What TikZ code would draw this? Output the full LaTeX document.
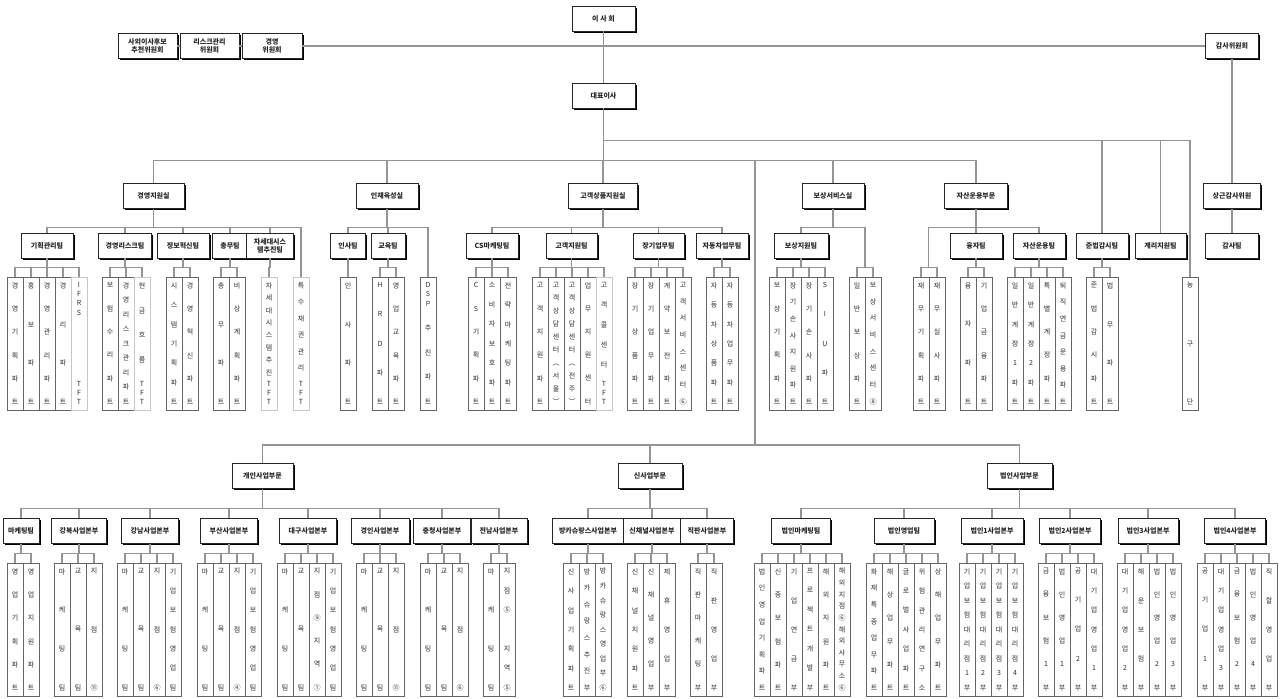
\documentclass[tikz,border=0pt]{standalone}
\usepackage{fontspec}
\setmainfont{Noto Sans CJK KR}
\usetikzlibrary{shadows,calc}

\tikzstyle{every node}+=[inner sep=0.5pt]
\tikzstyle{link}=[draw=black!42, line width=1.1pt]
\tikzstyle{box}=[draw=black!85, fill=white, line width=0.6pt, minimum height=25, align=center,
  font=\bfseries\fontsize{7}{7.8}\selectfont, text=black!85,
  drop shadow={shadow xshift=1.6pt, shadow yshift=-1.6pt, fill=black, opacity=1}]
\tikzstyle{leaf}=[draw=black!60, fill=white, line width=0.6pt, minimum width=16, minimum height=133,
  inner sep=0pt, font=\fontsize{7}{8}\selectfont, text=black!82]
\tikzstyle{tft}=[leaf, draw=black!22]

\newcommand\vsp[2]{#1\ifx#2\relax\else\par\vfill\expandafter\vsp\expandafter#2\fi}
\newcommand\vt[1]{\parbox[c][122pt][s]{15pt}{\centering\vsp#1\relax}}
\newcommand\TFT{\shortstack{T\\[1pt]F\\[1pt]T}}
\newcommand\IFRS{\shortstack{I\\[1pt]F\\[1pt]R\\[1pt]S}}
\newcommand\DSP{\shortstack{D\\[1pt]S\\[1pt]P}}
\newcommand\blankc{\mbox{}}

\makeatletter
\newcommand\cols[5]{%
  \foreach \lbl [count=\i] in {#5} {
    \expandafter\in@\expandafter\TFT\expandafter{\lbl}%
    \ifin@\tikzset{cur/.style=tft}\else\tikzset{cur/.style=leaf}\fi
    \node[cur] (#2\i) at ({#3+16*\i-8},{#4+66.5}) {\expandafter\vt\expandafter{\lbl}};
    \draw[link] (#1) -- ++(0,9.5) -| (#2\i.north);
  }}
\makeatother

\begin{document}
\begin{tikzpicture}[x=1pt,y=-1pt]
\fill[white] (0,0) rectangle (1281,698);
\useasboundingbox (0,0) rectangle (1281,698);

\node[box,minimum width=63] (board) at (603.5,18.5) {이 사 회};
\node[box,minimum width=63] (ceo) at (603.5,95.5) {대표이사};
\node[box,minimum width=59] (cm1) at (147.5,46) {사외이사후보\\추천위원회};
\node[box,minimum width=59] (cm2) at (209.5,46) {리스크관리\\위원회};
\node[box,minimum width=60] (cm3) at (272,46) {경영\\위원회};
\node[box,minimum width=53] (adt) at (1232,46) {감사위원회};
\node[box,minimum width=57] (adt2) at (1232,196) {상근감사위원};
\node[box,minimum width=53] (adt3) at (1232,246) {감사팀};

\node[box,minimum width=61] (gj) at (153.5,196) {경영지원실};
\node[box,minimum width=62] (ij) at (387,196) {인재육성실};
\node[box,minimum width=69] (gk) at (603,196) {고객상품지원실};
\node[box,minimum width=62] (bs) at (833,196) {보상서비스실};
\node[box,minimum width=63] (js) at (976,196) {자산운용부문};

\node[box,minimum width=52] (t1) at (47,245.5) {기획관리팀};
\node[box,minimum width=53] (t2) at (125,245.5) {경영리스크팀};
\node[box,minimum width=52] (t3) at (183,245.5) {정보혁신팀};
\node[box,minimum width=36] (t4) at (230,245.5) {총무팀};
\node[box,minimum width=47] (t5) at (270,245.5) {차세대시스\\템추진팀};
\node[box,minimum width=35] (t6) at (348,245.5) {인사팀};
\node[box,minimum width=34] (t7) at (388,245.5) {교육팀};
\node[box,minimum width=52] (t8) at (492,245.5) {CS마케팅팀};
\node[box,minimum width=51] (t9) at (571.5,245.5) {고객지원팀};
\node[box,minimum width=51] (t10) at (658.5,245.5) {장기업무팀};
\node[box,minimum width=52] (t11) at (722,245.5) {자동차업무팀};
\node[box,minimum width=54] (t12) at (801,245.5) {보상지원팀};
\node[box,minimum width=52] (t13) at (976,245.5) {융자팀};
\node[box,minimum width=52] (t14) at (1039,245.5) {자산운용팀};
\node[box,minimum width=52] (t15) at (1102,245.5) {준법감시팀};
\node[box,minimum width=51] (t16) at (1160.5,245.5) {계리지원팀};
\node[leaf] (ng) at (1190,343.5) {\vt{농구단}};

\node[box,minimum width=61] (gi) at (262.5,476) {개인사업부문};
\node[box,minimum width=64] (si) at (650,476) {신사업부문};
\node[box,minimum width=65] (bi) at (1019.5,476) {법인사업부문};

\node[box,minimum width=36] (l1) at (21,531) {마케팅팀};
\node[box,minimum width=55] (l2) at (79,531) {강북사업본부};
\node[box,minimum width=57] (l3) at (150,531) {강남사업본부};
\node[box,minimum width=57] (l4) at (229,531) {부산사업본부};
\node[box,minimum width=57] (l5) at (308,531) {대구사업본부};
\node[box,minimum width=58] (l6) at (380,531) {경인사업본부};
\node[box,minimum width=57] (l7) at (442,531) {충청사업본부};
\node[box,minimum width=56] (l8) at (499,531) {전남사업본부};
\node[box,minimum width=71] (l9) at (588,531) {방카슈랑스사업본부};
\node[box,minimum width=57] (l10) at (652,531) {신채널사업본부};
\node[box,minimum width=53] (l11) at (707,531) {직판사업본부};
\node[box,minimum width=59] (l12) at (801,531) {법인마케팅팀};
\node[box,minimum width=60] (l13) at (904,531) {법인영업팀};
\node[box,minimum width=62] (l14) at (992,531) {법인1사업본부};
\node[box,minimum width=61] (l15) at (1070,531) {법인2사업본부};
\node[box,minimum width=60] (l16) at (1148,531) {법인3사업본부};
\node[box,minimum width=61] (l17) at (1235,531) {법인4사업본부};

\coordinate (split) at (755,445);
\coordinate (gjj) at (301,258);
\coordinate (ijj) at (428,258);
\coordinate (bsj) at (865,258);
\coordinate (jsj) at (928.5,258);

\draw[link] (cm1.east) -- (cm2.west);
\draw[link] (cm2.east) -- (cm3.west);
\draw[link] (cm3.east) -- (adt.west);
\draw[link] (board.south) -- (ceo.north);
\draw[link] (adt.south) -- (adt2.north);
\draw[link] (adt2.south) -- (adt3.north);
\foreach \d in {gj,ij,gk,bs,js,split}
  \draw[link] (ceo.south) -- ++(0,52) -| (\d.north);
\foreach \d in {t15,t16,ng}
  \draw[link] (ceo.south) -- ++(0,32) -| (\d.north);
\foreach \d in {t1,t2,t3,t4,t5,gjj}
  \draw[link] (gj.south) -- ++(0,18.5) -| (\d);
\foreach \d in {t6,t7,ijj}
  \draw[link] (ij.south) -- ++(0,18.5) -| (\d);
\foreach \d in {t8,t9,t10,t11}
  \draw[link] (gk.south) -- ++(0,18.5) -| (\d);
\foreach \d in {t12,bsj}
  \draw[link] (bs.south) -- ++(0,18.5) -| (\d);
\foreach \d in {t13,t14,jsj}
  \draw[link] (js.south) -- ++(0,18.5) -| (\d);
\foreach \d in {gi,si,bi}
  \draw[link] (split) -| (\d.north);
\foreach \d in {l1,l2,l3,l4,l5,l6,l7,l8}
  \draw[link] (gi.south) -- ++(0,19.5) -| (\d.north);
\foreach \d in {l9,l10,l11}
  \draw[link] (si.south) -- ++(0,19.5) -| (\d.north);
\foreach \d in {l12,l13,l14,l15,l16,l17}
  \draw[link] (bi.south) -- ++(0,19.5) -| (\d.north);

\cols{t1.south}{a}{7}{277}{경영기획파트,홍보파트,경영관리파트,경리파트,\IFRS\TFT}
\cols{t2.south}{b}{102}{277}{보험수리파트,경영리스크관리파트,현금흐름\TFT}
\cols{t3.south}{c}{166}{277}{시스템기획파트,경영혁신파트}
\cols{t4.south}{d}{213}{277}{총무파트,비상계획파트}
\cols{t5.south}{e}{261}{277}{차세대시스템추진\TFT}
\cols{gjj}{f}{293}{277}{특수채권관리\TFT}
\cols{t6.south}{g}{340}{277}{인사파트}
\cols{t7.south}{h}{372}{277}{HRD파트,영업교육파트}
\cols{ijj}{k}{420}{277}{\DSP 추진파트}
\cols{t8.south}{m}{468}{277}{CS기획파트,소비자보호파트,전략마케팅파트}
\cols{t9.south}{n}{532}{277}{고객지원파트,고객상담센터︵서울︶,고객상담센터︵전주︶,업무지원센터,고객콜센터\TFT}
\cols{t10.south}{p}{627}{277}{장기상품파트,장기업무파트,계약보전파트,고객서비스센터⑥}
\cols{t11.south}{q}{706}{277}{자동차상품파트,자동차업무파트}
\cols{t12.south}{r}{769}{277}{보상기획파트,장기손사지원파트,장기손사파트,SIU파트}
\cols{bsj}{s}{849}{277}{일반보상파트,보상서비스센터⑧}
\cols{jsj}{u}{913}{277}{재무기획파트,재무실사파트}
\cols{t13.south}{v}{960}{277}{융자파트,기업금융파트}
\cols{t14.south}{w}{1007}{277}{일반계정1파트,일반계정2파트,특별계정파트,퇴직연금운용파트}
\cols{t15.south}{z}{1086}{277}{준법감시파트,법무파트}

\cols{l1.south}{A}{7}{563}{영업기획파트,영업지원파트}
\cols{l2.south}{B}{54}{563}{마케팅팀,교육팀,지점⑪}
\cols{l3.south}{C}{117}{563}{마케팅팀,교육팀,지점⑥,기업보험영업팀}
\cols{l4.south}{D}{197}{563}{마케팅팀,교육팀,지점④,기업보험영업팀}
\cols{l5.south}{E}{277}{563}{마케팅팀,교육팀,지점⑨지역①,기업보험영업팀}
\cols{l6.south}{F}{356}{563}{마케팅팀,교육팀,지점⑪}
\cols{l7.south}{G}{420}{563}{마케팅팀,교육팀,지점⑥}
\cols{l8.south}{H}{483}{563}{마케팅팀,지점⑤\blankc 지역⑤}
\cols{l9.south}{K}{563}{563}{신사업기획파트,방카슈랑스추진부,방카슈랑스영업부⑥}
\cols{l10.south}{M}{627}{563}{신채널지원파트,신채널영업부,제휴영업부}
\cols{l11.south}{N}{690}{563}{직판마케팅부,직판영업부}
\cols{l12.south}{P}{754}{563}{법인영업기획파트,신종보험파트,기업연금부,프로젝트개발부,해외지원파트,해외지점⑥해외사무소⑥}
\cols{l13.south}{Q}{866}{563}{화재특종업무파트,해상업무파트,글로벌사업파트,위험관리연구소,상해업무파트}
\cols{l14.south}{R}{959}{563}{기업보험대리점1부,기업보험대리점2부,기업보험대리점3부,기업보험대리점4부}
\cols{l15.south}{S}{1038}{563}{금융보험1부,법인영업1부,공기업2부,대기업영업1부}
\cols{l16.south}{U}{1117}{563}{대기업영업2부,해운보험부,법인영업2부,법인영업3부}
\cols{l17.south}{V}{1197}{563}{공기업1부,대기업영업3부,금융보험2부,법인영업4부,직할영업부}
\end{tikzpicture}
\end{document}
